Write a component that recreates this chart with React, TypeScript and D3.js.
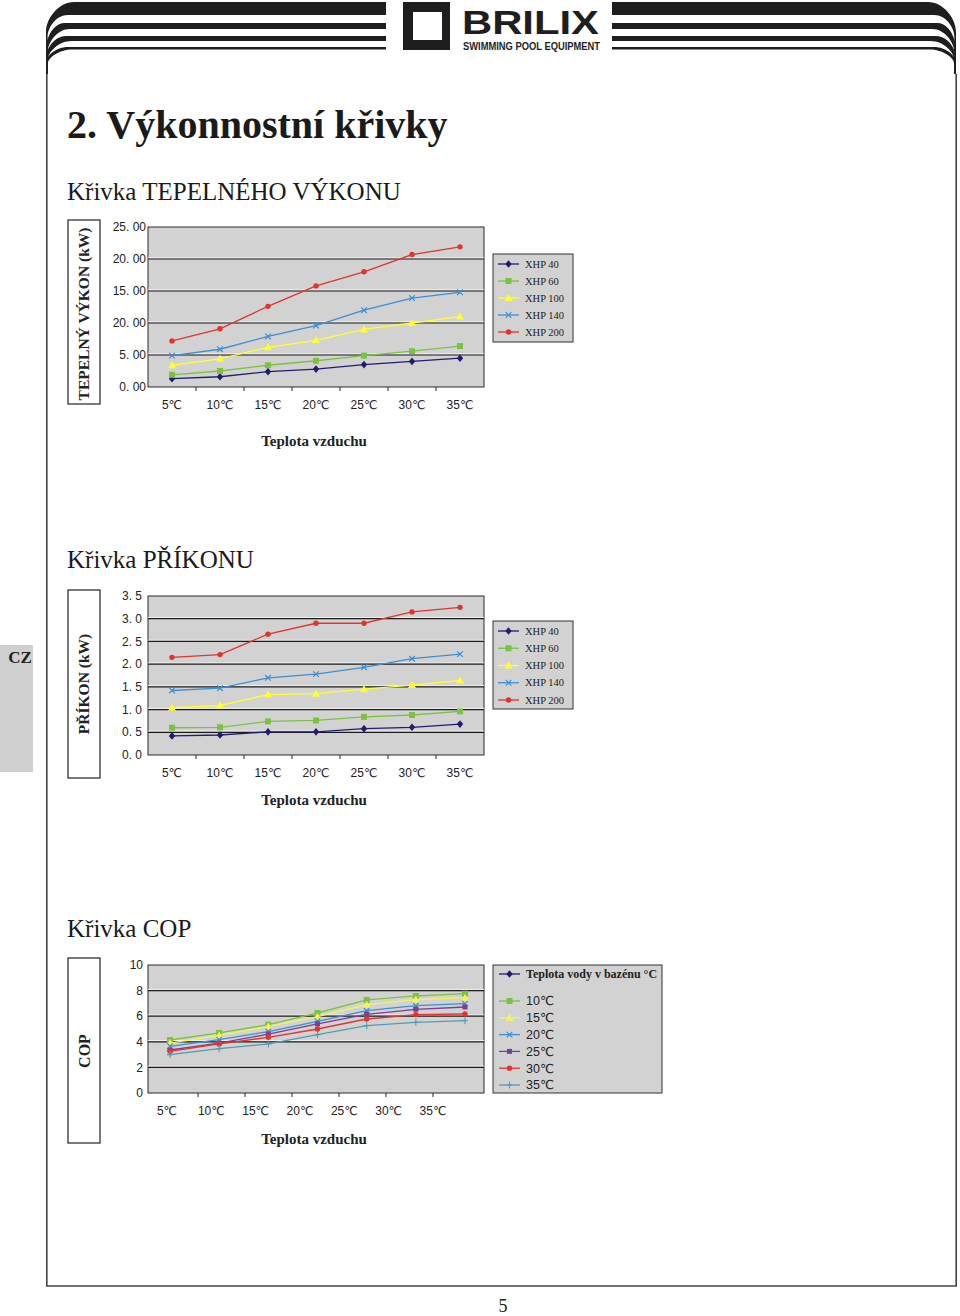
import * as d3 from 'd3';

// categories
const airTemps = ['5℃', '10℃', '15℃', '20℃', '25℃', '30℃', '35℃'];
const xhpNames = ['XHP 40', 'XHP 60', 'XHP 100', 'XHP 140', 'XHP 200'];
const xhpColors = ['#231c6e', '#7cc242', '#ffff2e', '#3b8fd4', '#e2342c'];
const xhpMarkers = ['diamond', 'square', 'triangle', 'cross', 'circle'];

// heating output (kW)
const heat40 = [1.3, 1.6, 2.4, 2.8, 3.5, 4.0, 4.5];
const heat60 = [1.9, 2.5, 3.4, 4.1, 4.9, 5.6, 6.4];
const heat100 = [3.4, 4.4, 6.2, 7.3, 9.0, 10.0, 11.0];
const heat140 = [4.9, 5.9, 7.9, 9.6, 12.0, 13.9, 14.8];
const heat200 = [7.2, 9.1, 12.6, 15.8, 18.0, 20.7, 21.9];
const heatTicks = [0, 5, 10, 15, 20, 25];
const heatTickLabels = ['0. 00', '5. 00', '20. 00', '15. 00', '20. 00', '25. 00'];

// power input (kW)
const pow40 = [0.42, 0.44, 0.51, 0.51, 0.58, 0.61, 0.68];
const pow60 = [0.6, 0.61, 0.74, 0.76, 0.84, 0.88, 0.96];
const pow100 = [1.04, 1.09, 1.33, 1.35, 1.45, 1.54, 1.64];
const pow140 = [1.42, 1.47, 1.7, 1.78, 1.93, 2.12, 2.22];
const pow200 = [2.15, 2.21, 2.66, 2.9, 2.9, 3.15, 3.25];
const powTicks = [0, 0.5, 1, 1.5, 2, 2.5, 3, 3.5];
const powTickLabels = ['0. 0', '0. 5', '1. 0', '1. 5', '2. 0', '2. 5', '3. 0', '3. 5'];

// COP by pool water temperature
const waterNames = ['10℃', '15℃', '20℃', '25℃', '30℃', '35℃'];
const waterColors = ['#7cc242', '#f4f45a', '#3b8fd4', '#7a3f98', '#e2342c', '#4d9db5'];
const waterMarkers = ['square', 'triangle', 'cross', 'smallsquare', 'circle', 'plus'];
const cop10 = [4.14, 4.69, 5.34, 6.25, 7.27, 7.58, 7.76];
const cop15 = [3.9, 4.5, 5.2, 5.96, 6.9, 7.3, 7.45];
const cop20 = [3.65, 4.17, 4.8, 5.6, 6.43, 6.82, 6.98];
const cop25 = [3.36, 3.9, 4.6, 5.4, 6.15, 6.54, 6.72];
const cop30 = [3.26, 3.83, 4.35, 5.0, 5.78, 6.12, 6.17];
const cop35 = [3.0, 3.46, 3.83, 4.56, 5.26, 5.52, 5.65];
const copTicks = [0, 2, 4, 6, 8, 10];

const SANS = 'Liberation Sans, Arial, DejaVu Sans, sans-serif';
const SERIF = 'Liberation Serif, Times New Roman, serif';

function Marker({ shape, x, y, color }: { shape: string; x: number; y: number; color: string }) {
  switch (shape) {
    case 'diamond':
      return <path d={`M${x},${y - 3.8}L${x + 3.2},${y}L${x},${y + 3.8}L${x - 3.2},${y}Z`} fill={color} />;
    case 'square':
      return <rect x={x - 3} y={y - 3} width={6} height={6} fill={color} />;
    case 'smallsquare':
      return <rect x={x - 2.5} y={y - 2.5} width={5} height={5} fill={color} />;
    case 'triangle':
      return <path d={`M${x},${y - 4}L${x + 4},${y + 3}L${x - 4},${y + 3}Z`} fill={color} />;
    case 'cross':
      return (
        <path d={`M${x - 2.8},${y - 2.8}L${x + 2.8},${y + 2.8}M${x + 2.8},${y - 2.8}L${x - 2.8},${y + 2.8}`}
          stroke={color} strokeWidth={1.2} />
      );
    case 'plus':
      return <path d={`M${x},${y - 3.5}L${x},${y + 3.5}M${x - 3},${y}L${x + 3},${y}`} stroke={color} strokeWidth={1.1} />;
    default:
      return <circle cx={x} cy={y} r={2.7} fill={color} />;
  }
}

interface Series { name: string; values: number[]; color: string; marker: string }

interface ChartProps {
  top: number;
  bottom: number;
  series: Series[];
  ticks: number[];
  tickLabels: string[];
  labelX: (d: string) => number;
  pointX: (d: string) => number;
  tickBand: d3.ScaleBand<string>;
  labelRight: number;
}

function Plot({ top, bottom, series, ticks, tickLabels, labelX, pointX, tickBand, labelRight }: ChartProps) {
  const left = 148, right = 484;
  const y = d3.scaleLinear().domain([ticks[0], ticks[ticks.length - 1]]).range([bottom, top]);
  const line = d3.line<number>().x((_, i) => pointX(airTemps[i])).y(d => y(d));
  const inner = ticks.slice(1, -1);
  return (
    <g>
      <rect x={left} y={top} width={right - left} height={bottom - top} fill="#d2d2d2" stroke="#2a2a2a" strokeWidth={1} />
      {inner.map(t => (
        <g key={t}>
          <line x1={left} x2={right} y1={y(t) - 1.2} y2={y(t) - 1.2} stroke="#f2f2f2" strokeWidth={1} />
          <line x1={left} x2={right} y1={y(t)} y2={y(t)} stroke="#1a1a1a" strokeWidth={1.2} />
        </g>
      ))}
      {airTemps.slice(1).map(d => (
        <line key={d} x1={tickBand(d)!} x2={tickBand(d)!} y1={bottom} y2={bottom + 4} stroke="#2a2a2a" />
      ))}
      {ticks.map((t, i) => (
        <text key={t} x={labelRight} y={y(t)} dy="0.35em" textAnchor="end" fontFamily={SANS} fontSize={12} fill="#222">
          {tickLabels[i]}
        </text>
      ))}
      {airTemps.map(d => (
        <text key={d} x={labelX(d)} y={bottom + 18} dy="0.35em" textAnchor="middle" fontFamily={SANS} fontSize={12} fill="#222">
          {d}
        </text>
      ))}
      {series.map(s => (
        <g key={s.name}>
          <path d={line(s.values) || ''} fill="none" stroke={s.color} strokeWidth={1.3} />
          {s.values.map((v, i) => (
            <Marker key={i} shape={s.marker} x={pointX(airTemps[i])} y={y(v)} color={s.color} />
          ))}
        </g>
      ))}
    </g>
  );
}

function LegendItem({ x, y, color, marker, label, font, size, bold }: any) {
  return (
    <g>
      <line x1={x} x2={x + 21} y1={y} y2={y} stroke={color} strokeWidth={1.3} />
      <Marker shape={marker} x={x + 10.5} y={y} color={color} />
      <text x={x + 27} y={y} dy="0.35em" fontFamily={font} fontSize={size} fontWeight={bold ? 'bold' : 'normal'} fill="#222">
        {label}
      </text>
    </g>
  );
}

function stripe(t: number, b: number, rx: number, ry: number, rx2: number, ry2: number, endX: number) {
  const x0 = 46, w = 1.6, yEnd = 74;
  return `M${endX},${t}L${x0 + rx},${t}C${x0 + rx * 0.45},${t} ${x0},${t + ry * 0.55} ${x0},${t + ry}` +
    `L${x0},${yEnd}L${x0 + w},${yEnd}L${x0 + w},${b + ry2}` +
    `C${x0 + w},${b + ry2 * 0.55} ${x0 + w + rx2 * 0.45},${b} ${x0 + w + rx2},${b}L${endX},${b}Z`;
}

const stripeDefs = [
  [2, 15, 28, 30, 20, 22],
  [23, 29, 18, 26, 22, 24],
  [36, 41, 20, 22, 24, 20],
  [47, 49.6, 22, 16, 25, 15],
];

export default function App() {
  const band = d3.scaleBand<string>().domain(airTemps).range([148, 484]);
  const center = (d: string) => band(d)! + band.bandwidth() / 2;

  const copPoints = d3.scalePoint<string>().domain(airTemps).range([170, 465]);
  const copLabels = d3.scalePoint<string>().domain(airTemps).range([167, 433]);
  const copBand = d3.scaleBand<string>().domain(airTemps).range([151, 480]);

  const heatSeries = [heat40, heat60, heat100, heat140, heat200].map((v, i) => ({
    name: xhpNames[i], values: v, color: xhpColors[i], marker: xhpMarkers[i],
  }));
  const powSeries = [pow40, pow60, pow100, pow140, pow200].map((v, i) => ({
    name: xhpNames[i], values: v, color: xhpColors[i], marker: xhpMarkers[i],
  }));
  const copSeries = [cop10, cop15, cop20, cop25, cop30, cop35].map((v, i) => ({
    name: waterNames[i], values: v, color: waterColors[i], marker: waterMarkers[i],
  }));

  const legendXY = d3.scalePoint<string>().domain(xhpNames);

  return (
    <svg width={960} height={1316} style={{ position: 'absolute', left: 0, top: 0, background: '#fff' }}>
      {/* header stripes */}
      {stripeDefs.map((s, i) => (
        <path key={'l' + i} d={stripe(s[0], s[1], s[2], s[3], s[4], s[5], 386)} fill="#1e1e1e" />
      ))}
      <g transform="translate(1002,0) scale(-1,1)">
        {stripeDefs.map((s, i) => (
          <path key={'r' + i} d={stripe(s[0], s[1], s[2], s[3], s[4], s[5], 390)} fill="#1e1e1e" />
        ))}
      </g>
      {/* logo */}
      <rect x={403} y={2} width={47} height={48} fill="#1e1e1e" />
      <rect x={413} y={12} width={29} height={28} fill="#fff" />
      <text transform="translate(462,34) scale(1,1.3)" fontFamily={SANS} fontWeight="bold" fontSize={26}
        textLength={137} lengthAdjust="spacingAndGlyphs" fill="#1e1e1e">
        BRILIX
      </text>
      <text x={463} y={49.5} fontFamily={SANS} fontWeight="bold" fontSize={10.5} textLength={137} lengthAdjust="spacingAndGlyphs" fill="#1e1e1e">
        SWIMMING POOL EQUIPMENT
      </text>

      {/* page frame */}
      <path d="M46.8,74V1286H956.2V74" fill="none" stroke="#444" strokeWidth={1.6} />

      {/* CZ tab */}
      <rect x={0} y={645} width={33} height={127} fill="#d0d0d0" />
      <text x={20} y={663} textAnchor="middle" fontFamily={SERIF} fontWeight="bold" fontSize={17} fill="#222">CZ</text>

      <text x={67} y={138} fontFamily={SERIF} fontWeight="bold" fontSize={40} fill="#1a1a1a">2. Výkonnostní křivky</text>

      {/* chart 1 */}
      <text x={67} y={200} fontFamily={SERIF} fontSize={25} fill="#1a1a1a">Křivka TEPELNÉHO VÝKONU</text>
      <rect x={68} y={220} width={32} height={184} fill="none" stroke="#222" strokeWidth={1.2} />
      <text transform="translate(84,314) rotate(-90)" dy="0.35em" textAnchor="middle" fontFamily={SERIF} fontWeight="bold" fontSize={15.5} fill="#222">
        TEPELNÝ VÝKON (kW)
      </text>
      <Plot top={227} bottom={387} series={heatSeries} ticks={heatTicks} tickLabels={heatTickLabels}
        labelX={center} pointX={center} tickBand={band} labelRight={146} />
      <rect x={493} y={254} width={80} height={88} fill="#d2d2d2" stroke="#333" />
      {xhpNames.map((n, i) => (
        <LegendItem key={n} x={498} y={legendXY.range([264, 332])(n)!} color={xhpColors[i]} marker={xhpMarkers[i]}
          label={n} font={SERIF} size={10.5} />
      ))}
      <text x={314} y={446} textAnchor="middle" fontFamily={SERIF} fontWeight="bold" fontSize={15} fill="#222">Teplota vzduchu</text>

      {/* chart 2 */}
      <text x={67} y={568} fontFamily={SERIF} fontSize={25} fill="#1a1a1a">Křivka PŘÍKONU</text>
      <rect x={68} y={590} width={32} height={188} fill="none" stroke="#222" strokeWidth={1.2} />
      <text transform="translate(84,684) rotate(-90)" dy="0.35em" textAnchor="middle" fontFamily={SERIF} fontWeight="bold" fontSize={15.5} fill="#222">
        PŘÍKON (kW)
      </text>
      <Plot top={596} bottom={755} series={powSeries} ticks={powTicks} tickLabels={powTickLabels}
        labelX={center} pointX={center} tickBand={band} labelRight={142} />
      <rect x={493} y={621} width={80} height={88} fill="#d2d2d2" stroke="#333" />
      {xhpNames.map((n, i) => (
        <LegendItem key={n} x={498} y={legendXY.range([631, 700])(n)!} color={xhpColors[i]} marker={xhpMarkers[i]}
          label={n} font={SERIF} size={10.5} />
      ))}
      <text x={314} y={805} textAnchor="middle" fontFamily={SERIF} fontWeight="bold" fontSize={15} fill="#222">Teplota vzduchu</text>

      {/* chart 3 */}
      <text x={67} y={937} fontFamily={SERIF} fontSize={25} fill="#1a1a1a">Křivka COP</text>
      <rect x={68} y={958} width={32} height={185} fill="none" stroke="#222" strokeWidth={1.2} />
      <text transform="translate(84,1051) rotate(-90)" dy="0.35em" textAnchor="middle" fontFamily={SERIF} fontWeight="bold" fontSize={16} fill="#222">
        COP
      </text>
      <Plot top={965} bottom={1093} series={copSeries} ticks={copTicks} tickLabels={copTicks.map(String)}
        labelX={d => copLabels(d)!} pointX={d => copPoints(d)!} tickBand={copBand} labelRight={143} />
      <rect x={493} y={965} width={169} height={128} fill="#d2d2d2" stroke="#333" />
      <LegendItem x={499} y={974} color="#231c6e" marker="diamond" label="Teplota vody v bazénu °C" font={SERIF} size={12} bold />
      {waterNames.map((n, i) => (
        <LegendItem key={n} x={499} y={d3.scalePoint<string>().domain(waterNames).range([1001, 1085])(n)!}
          color={waterColors[i]} marker={waterMarkers[i]} label={n} font={SANS} size={12.5} />
      ))}
      <text x={314} y={1144} textAnchor="middle" fontFamily={SERIF} fontWeight="bold" fontSize={15} fill="#222">Teplota vzduchu</text>

      <text x={503} y={1312} textAnchor="middle" fontFamily={SERIF} fontSize={18} fill="#222">5</text>
    </svg>
  );
}
